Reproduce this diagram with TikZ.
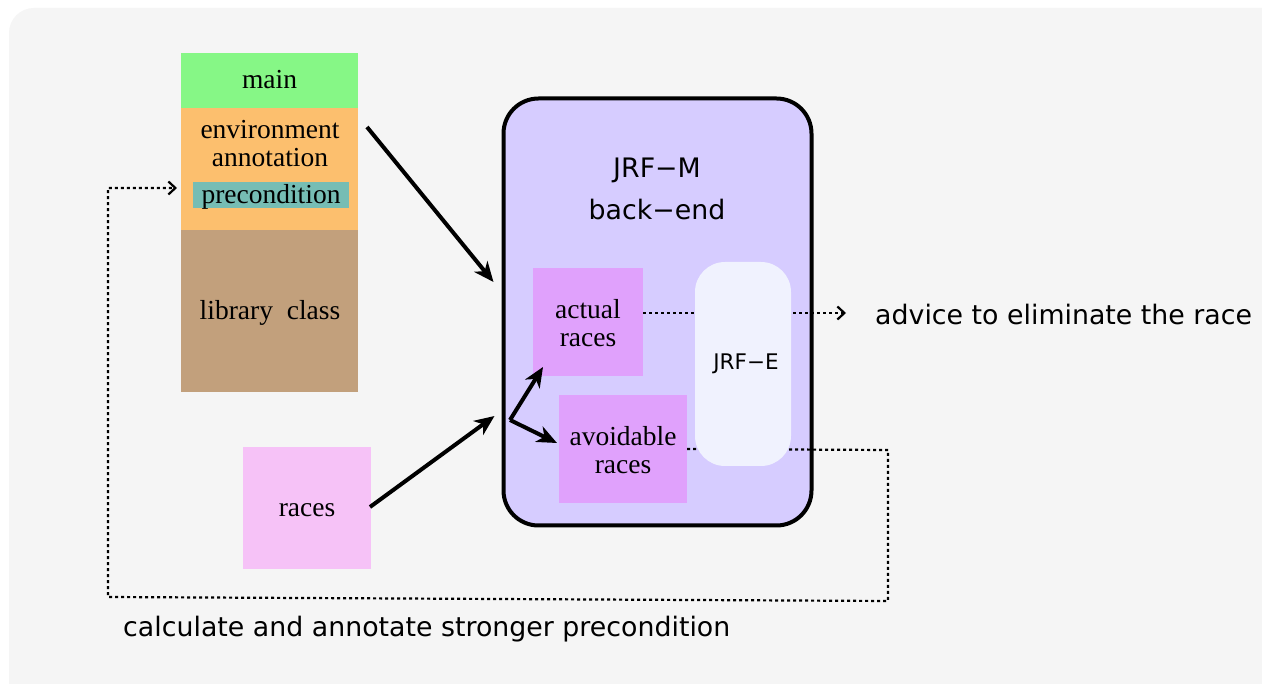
\documentclass[tikz,border=0pt]{standalone}
\usepackage{fontspec}
\setmainfont{Liberation Serif}
\newfontfamily\sansf{DejaVu Sans}
\usetikzlibrary{arrows.meta,calc}
\definecolor{bgc}{RGB}{245,245,245}
\definecolor{maing}{RGB}{134,247,134}
\definecolor{envo}{RGB}{252,191,110}
\definecolor{pret}{RGB}{118,189,180}
\definecolor{libt}{RGB}{194,160,124}
\definecolor{racep}{RGB}{246,194,247}
\definecolor{jrfm}{RGB}{214,204,255}
\definecolor{racem}{RGB}{224,161,252}
\definecolor{jrfe}{RGB}{240,242,254}
\tikzset{
  blk/.style={rectangle, inner sep=0pt, outer sep=0pt, draw=none},
  sertxt/.style={inner sep=0pt, align=center, font=\fontsize{27.5}{28}\selectfont},
  sanstxt/.style={inner sep=0pt, align=center, font=\sansf\fontsize{26.8}{42}\selectfont},
  thickarrow/.style={line width=4pt, -{Stealth[length=20pt,width=17pt,inset=6pt]}},
  dotarrow/.style={line width=2.2pt, dash pattern=on 3pt off 3pt, -{Straight Barb[length=7pt,width=13pt]}}
}
\begin{document}
\begin{tikzpicture}[x=1pt,y=-1pt]
\useasboundingbox (0,0) rectangle (1262,684);
\fill[white] (0,0) rectangle (1262,684);
\fill[bgc, rounded corners=25pt] (9,8) rectangle (1300,710);
% left stack
\node[blk, fill=maing, minimum width=177pt, minimum height=55pt] (main) at (269.5,80.5) {};
\node[blk, fill=envo, minimum width=177pt, minimum height=122pt] (env) at (269.5,169) {};
\node[blk, fill=pret, minimum width=156pt, minimum height=26pt] (pre) at (271,195) {};
\node[blk, fill=libt, minimum width=177pt, minimum height=162pt] (lib) at (269.5,311) {};
\node[sertxt] (maint) at (269.5,80) {main};
\node[sertxt] (envt) at (270,144) {environment\\annotation};
\node[sertxt] (pret) at (271,197) {precondition};
\node[sertxt] (libtx) at (270,313) {library~ class};
% races
\node[blk, fill=racep, minimum width=128pt, minimum height=122pt] (races) at (307,508) {};
\node[sertxt] (racest) at (307,510) {races};
% JRF-M
\node[blk, draw=black, line width=4pt, fill=jrfm, rounded corners=35pt, minimum width=308pt, minimum height=427pt] (jrfmb) at (657.5,312) {};
\node[sanstxt] (jrfmt) at (657,189) {JRF−M\\back−end};
% coordinates
\coordinate (advtip) at (846,313);
\coordinate (c1) at (888,450);
\coordinate (c2) at (888,601);
\coordinate (c3) at (108,597);
\coordinate (c4) at (108,188);
\coordinate (envin) at (177,188);
\coordinate (split) at (510,420);
% boxes inside
\node[blk, fill=racem, minimum width=110pt, minimum height=108pt] (actual) at (588,322) {};
\node[blk, fill=racem, minimum width=128pt, minimum height=108pt] (avoid) at (623,449) {};
% dotted connectors
\draw[dotarrow] ([yshift=9pt]actual.east) -- (advtip);
\draw[dotarrow] (avoid.east) -- (c1) -- (c2) -- (c3) -- (c4) -- (envin);
% JRF-E
\node[blk, fill=jrfe, rounded corners=30pt, minimum width=96pt, minimum height=204pt] (jrfeb) at (743,364) {};
\node[sanstxt, font=\sansf\fontsize{21.5}{28}\selectfont] (jrfet) at (746,364) {JRF−E};
% redraw boxes on top
\node[blk, fill=racem, minimum width=110pt, minimum height=108pt] at (actual) {};
\node[blk, fill=racem, minimum width=128pt, minimum height=108pt] at (avoid) {};
\node[sertxt] (actualt) at (588,323) {actual\\races};
\node[sertxt] (avoidt) at (623,450) {avoidable\\races};
% thick arrows
\draw[thickarrow] ([xshift=9pt,yshift=-19pt]env.north east) -- ([xshift=-10pt,yshift=30pt]jrfmb.west);
\draw[thickarrow] ([xshift=-1pt,yshift=1pt]races.east) -- ([xshift=-9pt,yshift=-104pt]jrfmb.west);
\draw[thickarrow] (split) -- ([xshift=10pt,yshift=9pt]actual.south west);
\draw[thickarrow] (split) -- ([xshift=-2pt,yshift=6pt]avoid.west);
% texts
\node[sanstxt, anchor=west] (advt) at (875,315) {advice to eliminate the race};
\node[sanstxt, anchor=west] (calct) at (123,629) {calculate and annotate stronger precondition};
\end{tikzpicture}
\end{document}
